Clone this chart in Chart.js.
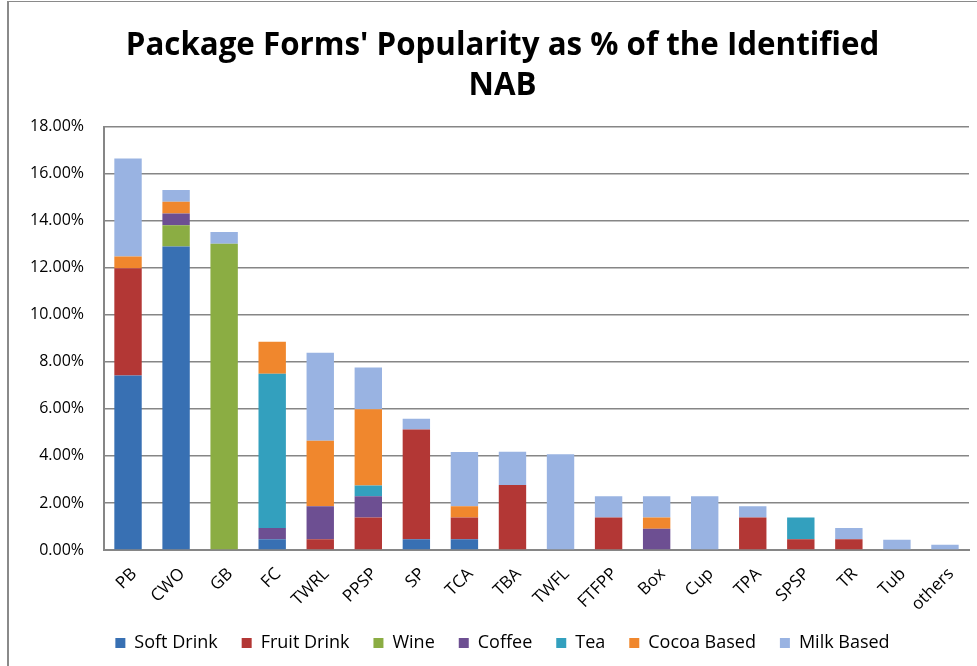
<!DOCTYPE html>
<html>
<head>
<meta charset="utf-8">
<script src="https://cdn.jsdelivr.net/npm/chart.js@4/dist/chart.umd.min.js"></script>
<style>
  html, body { margin: 0; padding: 0; background: #fff; }
  #wrap { position: relative; width: 977px; height: 666px; }
  #frame { position: absolute; left: 7px; top: 1px; width: 990px; height: 700px; border-left: 2px solid #8a8a8a; border-top: 1px solid #8a8a8a; box-sizing: border-box; pointer-events: none; }
  canvas { position: absolute; left: 0; top: 0; }
</style>
</head>
<body>
<div id="wrap">
  <canvas id="c" width="977" height="666"></canvas>
  <div id="frame"></div>
</div>
<script>
const categories = ["PB", "CWO", "GB", "FC", "TWRL", "PPSP", "SP", "TCA", "TBA", "TWFL", "FTFPP", "Box", "Cup", "TPA", "SPSP", "TR", "Tub", "others"];
const softDrink  = [7.42, 12.90, 0,     0.46, 0,    0,    0.46, 0.46, 0,    0,    0,    0,    0,    0,    0,    0,    0,    0];
const fruitDrink = [4.55, 0,     0,     0,    0.46, 1.38, 4.66, 0.92, 2.76, 0,    1.38, 0,    0,    1.38, 0.46, 0.46, 0,    0];
const wine       = [0,    0.90,  13.02, 0,    0,    0,    0,    0,    0,    0,    0,    0,    0,    0,    0,    0,    0,    0];
const coffee     = [0,    0.50,  0,     0.48, 1.40, 0.90, 0,    0,    0,    0,    0,    0.90, 0,    0,    0,    0,    0,    0];
const tea        = [0,    0,     0,     6.55, 0,    0.46, 0,    0,    0,    0,    0,    0,    0,    0,    0.92, 0,    0,    0];
const cocoaBased = [0.50, 0.50,  0,     1.36, 2.78, 3.24, 0,    0.48, 0,    0,    0,    0.48, 0,    0,    0,    0,    0,    0];
const milkBased  = [4.17, 0.50,  0.50,  0,    3.74, 1.78, 0.46, 2.31, 1.42, 4.07, 0.90, 0.90, 2.28, 0.48, 0,    0.48, 0.44, 0.22];
const yTicks = [0, 2, 4, 6, 8, 10, 12, 14, 16, 18];

const seriesNames = ["Soft Drink", "Fruit Drink", "Wine", "Coffee", "Tea", "Cocoa Based", "Milk Based"];
const seriesData = [softDrink, fruitDrink, wine, coffee, tea, cocoaBased, milkBased];
const seriesColors = ["#3870B3", "#B33735", "#8BAD43", "#6D4F92", "#33A0BE", "#F0872D", "#99B3E2"];

const datasets = seriesNames.map((n, i) => ({
  label: n,
  data: seriesData[i],
  backgroundColor: seriesColors[i],
  borderWidth: 0,
  categoryPercentage: 1.0,
  barPercentage: 0.57
}));

// let the y tick labels extend into the left layout padding (no clipping)
const unclipY = {
  id: 'unclipY',
  afterLayout(chart) { chart.scales.y.left = 0; }
};

new Chart(document.getElementById('c'), {
  type: 'bar',
  data: { labels: categories, datasets },
  plugins: [unclipY],
  options: {
    responsive: false,
    animation: false,
    layout: { padding: { left: 36, right: 8, top: 0, bottom: 4 } },
    plugins: {
      title: {
        display: true,
        text: ["Package Forms' Popularity as % of the Identified", "NAB"],
        color: '#000',
        font: { family: 'Open Sans', size: 31.3, weight: 'bold', lineHeight: 1.27 },
        padding: { top: 26, bottom: 21 }
      },
      legend: {
        position: 'bottom',
        labels: {
          color: '#000',
          font: { family: 'Open Sans', size: 18 },
          boxWidth: 10,
          boxHeight: 10,
          padding: 24
        }
      },
      tooltip: { enabled: false }
    },
    scales: {
      x: {
        stacked: true,
        afterFit: (s) => { s.height = 60; },
        grid: { display: false, drawTicks: false },
        border: { color: '#868686', width: 2 },
        ticks: {
          color: '#000',
          font: { family: 'Open Sans', size: 17 },
          maxRotation: 45,
          minRotation: 45,
          padding: 14,
          labelOffset: 6,
          autoSkip: false
        }
      },
      y: {
        stacked: true,
        min: 0,
        max: 18,
        afterBuildTicks: (s) => { s.ticks = yTicks.map(v => ({ value: v })); },
        afterFit: (s) => { s.width = 68; },
        grid: { color: '#868686', lineWidth: 1.5, drawTicks: false },
        border: { color: '#868686', width: 2 },
        ticks: {
          color: '#000',
          font: { family: 'Open Sans', size: 16 },
          padding: 20,
          callback: (v) => Number(v).toFixed(2) + '%'
        }
      }
    }
  }
});
</script>
</body>
</html>
